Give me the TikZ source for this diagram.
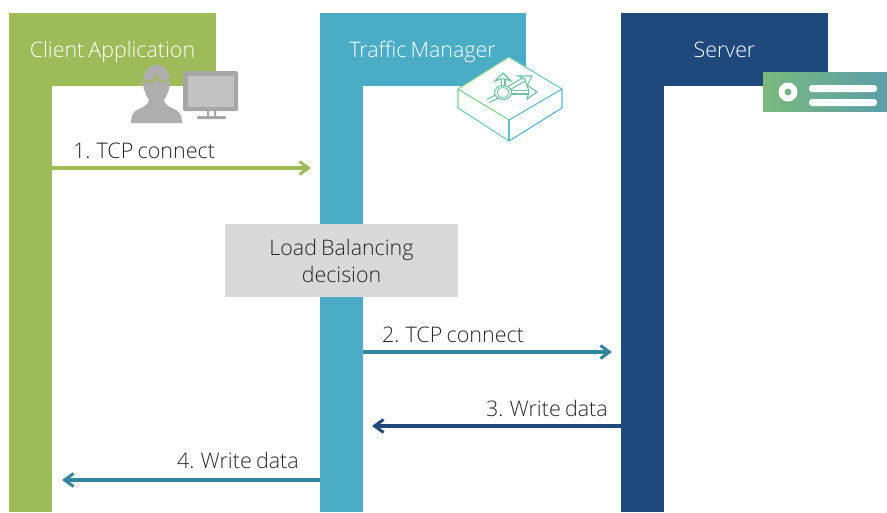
\documentclass[tikz,border=0pt]{standalone}
\usepackage{fontspec}
\setmainfont[WordSpace=0.75]{Open Sans Light}
\usetikzlibrary{arrows.meta}
\definecolor{cgreen}{HTML}{9DBB58}
\definecolor{cteal}{HTML}{4BACC6}
\definecolor{cnavy}{HTML}{1F497D}
\definecolor{carrow}{HTML}{31859C}
\definecolor{cgray}{HTML}{D9D9D9}
\definecolor{ctext}{HTML}{262626}
\definecolor{iconA}{HTML}{AEAEAE}
\definecolor{iconB}{HTML}{A6A6A6}
\definecolor{iconC}{HTML}{C2C2C2}
\definecolor{cardL}{HTML}{7AB97C}
\definecolor{cardR}{HTML}{5B9EA9}
\tikzset{
  bar/.style={draw=none,fill=#1,minimum width=43pt,inner sep=0pt,outer sep=0pt,anchor=north west},
  head/.style={draw=none,fill=#1,text=white,minimum width=207pt,minimum height=73pt,inner sep=0pt,outer sep=0pt,anchor=north west,text height=20pt,text depth=5pt,font=\fontsize{21.4}{25}\selectfont},
  msg/.style={line width=3.2pt,-{Straight Barb[length=9pt,width=13pt,line width=3pt]}},
  lab/.style={text=ctext,inner sep=0pt,font=\fontsize{21.5}{25}\selectfont},
}
\begin{document}
\begin{tikzpicture}[x=1pt,y=-1pt]
\useasboundingbox (0,0) rectangle (887,512);
% lifelines
\node[bar=cgreen,minimum height=499pt] (clientbar) at (9,13) {};
\node[bar=cteal,minimum height=499pt] (tmbar) at (320,13) {};
\node[bar=cnavy,minimum height=499pt] (serverbar) at (621,13) {};
\node[head=cgreen] (client) at (9,13) {Client Application};
\node[head=cteal] (tm) at (319,13) {Traffic Manager};
\fill[cteal] (319,13) rectangle (321,86);
\fill[white] (319,13) rectangle (320,86);
\fill[cteal] (525,13) rectangle (526,86);
\node[head=cnavy] (server) at (621,13) {Server};
% decision
\node[fill=cgray,text=ctext,minimum width=233pt,minimum height=73pt,inner sep=0pt,align=center,font=\fontsize{21.4}{27}\selectfont] (lb) at (341.5,260.5) {\raisebox{-1pt}{Load Balancing}\\\raisebox{-1pt}{decision}};
% arrows
\coordinate (a1s) at (52,168); \coordinate (a1e) at (311,168);
\coordinate (a2s) at (363,352); \coordinate (a2e) at (612,352);
\coordinate (a3s) at (621,426); \coordinate (a3e) at (372,426);
\coordinate (a4s) at (320,480); \coordinate (a4e) at (62,480);
\draw[msg,cgreen] (a1s) -- (a1e);
\draw[msg,carrow] (a2s) -- (a2e);
\draw[msg,cnavy] (a3s) -- (a3e);
\draw[msg,carrow] (a4s) -- (a4e);
\node[lab,anchor=base west] (l1) at (73,158) {1. TCP connect};
\node[lab,anchor=base west] (l2) at (382,342) {2. TCP connect};
\node[lab,anchor=base east] (l3) at (608,416) {3. Write data};
\node[lab,anchor=base east] (l4) at (299,468) {4. Write data};
% person
\fill[iconA] (143,82) .. controls (143,71) and (149,65) .. (157,65) .. controls (165,65) and (170,71) .. (170,82)
  .. controls (170,90) and (166,97) .. (164,100) .. controls (164,105) and (172,108) .. (176,110)
  .. controls (180,112) and (182,116) .. (182,123) -- (131,123) .. controls (131,116) and (133,112) .. (137,110)
  .. controls (141,108) and (149,105) .. (149,100) .. controls (147,97) and (143,90) .. (143,82) -- cycle;
\draw[cgreen,line width=1.6pt] (143,79) .. controls (149,83) and (155,83) .. (157,76) .. controls (159,83) and (165,83) .. (170,79);
% monitor
\fill[iconB,rounded corners=1.5pt] (183,71) rectangle (238,111);
\fill[iconC] (188,76) rectangle (234,107);
\fill[iconB] (207,111) rectangle (209,117) (214,111) rectangle (216,117);
\fill[iconB,rounded corners=1pt] (197,116) rectangle (226,119);
% device
\fill[white] (509,57) -- (562,89) -- (562,108) -- (509,141) -- (458,108) -- (458,89) -- cycle;
\begin{scope}[line width=1.1pt,line join=round]
\definecolor{g1}{HTML}{7FD68A}\definecolor{g2}{HTML}{6FCBB0}\definecolor{g3}{HTML}{62BCCB}\definecolor{g4}{HTML}{5AAFE0}
\draw[g1] (458,89) -- (509,57);
\draw[g2] (509,57) -- (562,89);
\draw[g1] (458,89) -- (509,120) (458,89) -- (458,108);
\draw[g3] (509,120) -- (562,89);
\draw[g2] (458,108) -- (509,141);
\draw[g3] (509,120) -- (509,141);
\draw[g4] (509,141) -- (562,108) -- (562,89);
\end{scope}
% router glyph
\begin{scope}[line join=miter]
\definecolor{r1}{HTML}{6FC4A0}
\foreach \w/\c in {5pt/r1,2.6pt/white}{
  \draw[line width=\w,\c] (488,101) -- (498,96);
  \draw[line width=\w,\c] (503,86) -- (503,79);
  \draw[line width=\w,\c] (509,88) -- (525,79);
  \draw[line width=\w,\c] (511,92) -- (529,92);
}
\draw[r1,line width=1.1pt,fill=white] (503,73) -- (511,81) -- (503,78.5) -- (495,81) -- cycle;
\draw[r1,line width=1.1pt,fill=white] (532,76) -- (527,86) -- (525,79) -- (518,76) -- cycle;
\draw[r1,line width=1.1pt,fill=white] (537,92) -- (527,99) -- (529,92) -- (527,85) -- cycle;
\draw[r1,line width=1.1pt,fill=white] (503,92.5) ellipse (8.5pt and 7pt);
\draw[r1,line width=0.9pt] (503,92.5) ellipse (6pt and 5pt);
\end{scope}
% server card
\shade[left color=cardL,right color=cardR] (763,72) rectangle (887,111);
\fill[white] (788,92) circle (9.5pt);
\fill[cardL!85!cardR] (788,92) circle (3.5pt);
\fill[white,rounded corners=3pt] (809,85) rectangle (877,92);
\fill[white,rounded corners=3pt] (809,99) rectangle (877,106);
\end{tikzpicture}
\end{document}
